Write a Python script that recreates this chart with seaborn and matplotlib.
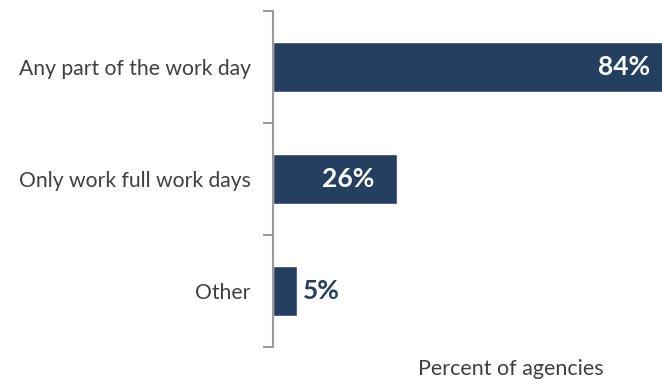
import matplotlib
matplotlib.use("Agg")
import matplotlib.pyplot as plt
import seaborn as sns
import pandas as pd

categories = ["Any part of the work day", "Only work full work days", "Other"]
percents = [84, 26, 5]
value_labels = ["84%", "26%", "5%"]

BAR = "#253F61"
TEXT = "#404040"
AXIS = "#9A9A9A"

sns.set_style("white")
plt.rcParams["font.family"] = ["Lato", "DejaVu Sans"]

df = pd.DataFrame({"category": categories, "percent": percents})

W, H = 662, 379
fig = plt.figure(figsize=(W / 100, H / 100), dpi=100)
# axes run past the right edge so the longest bar is cut off by the frame
ax = fig.add_axes([273 / W, 1 - 347 / H, 399 / W, 336 / H])

sns.barplot(data=df, x="percent", y="category", orient="h", color=BAR,
            saturation=1, width=0.455, ax=ax)

ax.set_xlim(0, 84)
ax.set_ylim(2.5, -0.5)

for spine in ["top", "right", "bottom"]:
    ax.spines[spine].set_visible(False)
ax.spines["left"].set_color(AXIS)
ax.spines["left"].set_linewidth(1.5)

ax.set_xticks([])
ax.set_yticks(range(len(categories)))
ax.set_yticklabels(categories, fontsize=15.2, color=TEXT)
ax.tick_params(axis="y", which="major", left=True, length=0, pad=16)
ax.set_yticks([-0.5, 0.5, 1.5, 2.5], minor=True)
ax.tick_params(axis="y", which="minor", left=True, length=7, width=1.5,
               color=AXIS)

ax.set_ylabel("")
ax.set_xlabel("Percent of agencies", fontsize=15.5, color=TEXT)
ax.xaxis.set_label_coords(0.597, -0.035)

for i, (v, lab) in enumerate(zip(percents, value_labels)):
    if v > 15:
        ax.annotate(lab, (v, i), xytext=(-22, 0), textcoords="offset pixels",
                    ha="right", va="center", fontsize=19, fontweight="bold",
                    color="white")
    else:
        ax.annotate(lab, (v, i), xytext=(6, 0), textcoords="offset pixels",
                    ha="left", va="center", fontsize=19, fontweight="bold",
                    color=BAR)

fig.savefig("out.png", dpi=100)
